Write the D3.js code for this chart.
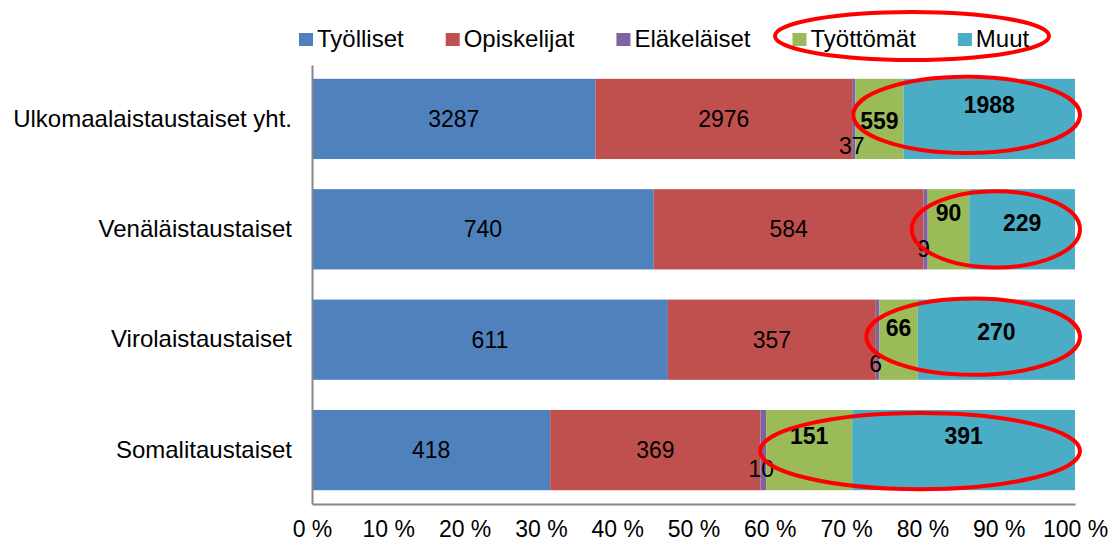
<!DOCTYPE html>
<html>
<head>
<meta charset="utf-8">
<script src="https://cdn.jsdelivr.net/npm/d3@7"></script>
<style>
  body { margin: 0; background: #fff; }
  text { font-family: "Liberation Sans", Arial, sans-serif; fill: #000; }
</style>
</head>
<body>
<script>
// data
var categories = ["Ulkomaalaistaustaiset yht.", "Venäläistaustaiset", "Virolaistaustaiset", "Somalitaustaiset"];
var seriesNames = ["Työlliset", "Opiskelijat", "Eläkeläiset", "Työttömät", "Muut"];
var tyolliset   = [3287, 740, 611, 418];
var opiskelijat = [2976, 584, 357, 369];
var elakelaiset = [37, 9, 6, 10];
var tyottomat   = [559, 90, 66, 151];
var muut        = [1988, 229, 270, 391];
var tickValues  = [0, 0.1, 0.2, 0.3, 0.4, 0.5, 0.6, 0.7, 0.8, 0.9, 1];

var colors = ["#4F81BD", "#C0504D", "#8064A2", "#9BBB59", "#4BACC6"];
var boldSeries = ["Työttömät", "Muut"];
// vertical nudges of the value labels (per series, per category)
var labelDy = {
  "Eläkeläiset": [27, 20, 24, 19],
  "Työttömät": [2, -16, -12, -14],
  "Muut": [-14, -6, -8, -14]
};

var W = 1111, H = 545;
var margin = {top: 65, right: 36, bottom: 41, left: 312},
    width = W - margin.left - margin.right,
    height = H - margin.top - margin.bottom;

var rows = categories.map(function(c, i) {
  return {cat: c, "Työlliset": tyolliset[i], "Opiskelijat": opiskelijat[i],
          "Eläkeläiset": elakelaiset[i], "Työttömät": tyottomat[i], "Muut": muut[i]};
});

var stack = d3.stack().keys(seriesNames).offset(d3.stackOffsetExpand);
var layers = stack(rows);

var x = d3.scaleLinear().domain([0, 1]).range([0, width]);
var y = d3.scaleBand().domain(categories).range([0, height]).paddingInner(0.273).paddingOuter(0.125);
var color = d3.scaleOrdinal().domain(seriesNames).range(colors);

var svg = d3.select("body").append("svg")
    .attr("width", W).attr("height", H);
var g = svg.append("g")
    .attr("transform", "translate(" + margin.left + "," + margin.top + ")");

// bars
g.selectAll(".layer")
  .data(layers)
  .enter().append("g")
    .attr("class", "layer")
    .attr("fill", function(d) { return color(d.key); })
  .selectAll("rect")
  .data(function(d) { return d; })
  .enter().append("rect")
    .attr("x", function(d) { return x(d[0]); })
    .attr("y", function(d) { return y(d.data.cat); })
    .attr("width", function(d) { return x(d[1]) - x(d[0]); })
    .attr("height", y.bandwidth());

// axes
var xAxis = g.append("g")
    .attr("transform", "translate(0," + height + ")")
    .call(d3.axisBottom(x).tickValues(tickValues).tickSize(0).tickPadding(17)
      .tickFormat(function(d) { return Math.round(d * 100) + " %"; }));
xAxis.select(".domain").attr("stroke", "#868686").attr("stroke-width", 2);
xAxis.selectAll("text").style("font-size", "23px");

var yAxis = g.append("g")
    .call(d3.axisLeft(y).tickSize(0).tickPadding(20));
yAxis.select(".domain").attr("stroke", "#868686").attr("stroke-width", 2);
yAxis.selectAll("text").style("font-size", "24px");

// value labels
layers.forEach(function(layer) {
  var bold = boldSeries.indexOf(layer.key) >= 0;
  g.selectAll(null)
    .data(layer)
    .enter().append("text")
      .attr("x", function(d) {
        var cx = (x(d[0]) + x(d[1])) / 2;
        return layer.key === "Eläkeläiset" ? cx - 2 : cx;
      })
      .attr("y", function(d, i) {
        var dy = labelDy[layer.key] ? labelDy[layer.key][i] : 0;
        return y(d.data.cat) + y.bandwidth() / 2 + dy;
      })
      .attr("dy", "0.35em")
      .attr("text-anchor", "middle")
      .style("font-size", "23px")
      .style("font-weight", bold ? "bold" : "normal")
      .text(function(d) { return d.data[layer.key]; });
});

// legend
var legend = svg.append("g").attr("transform", "translate(299,39)");
var lx = 0;
seriesNames.forEach(function(name, i) {
  var item = legend.append("g").attr("transform", "translate(" + lx + ",0)");
  item.append("rect").attr("x", 0).attr("y", -6).attr("width", 14).attr("height", 13)
    .attr("fill", colors[i]);
  var t = item.append("text").attr("x", 18).attr("y", 8)
    .style("font-size", "24px")
    .text(name);
  lx += 18 + t.node().getComputedTextLength() + 42;
});

// red highlight ellipses
var ring = {stroke: "#f00", width: 4};
svg.append("ellipse")
  .attr("cx", 912).attr("cy", 36).attr("rx", 137).attr("ry", 24)
  .attr("fill", "none").attr("stroke", ring.stroke).attr("stroke-width", ring.width);

var leftPad = [2, 16, 13, 6], cyShift = [-4, 0, -3, 1];
var greenLayer = layers[3], lastLayer = layers[4];
categories.forEach(function(c, i) {
  var x0 = x(greenLayer[i][0]) - leftPad[i], x1 = x(lastLayer[i][1]) + 5;
  g.append("ellipse")
    .attr("cx", (x0 + x1) / 2)
    .attr("cy", y(c) + y.bandwidth() / 2 + cyShift[i])
    .attr("rx", (x1 - x0) / 2)
    .attr("ry", y.bandwidth() / 2 - 2)
    .attr("fill", "none").attr("stroke", ring.stroke).attr("stroke-width", ring.width);
});
</script>
</body>
</html>
